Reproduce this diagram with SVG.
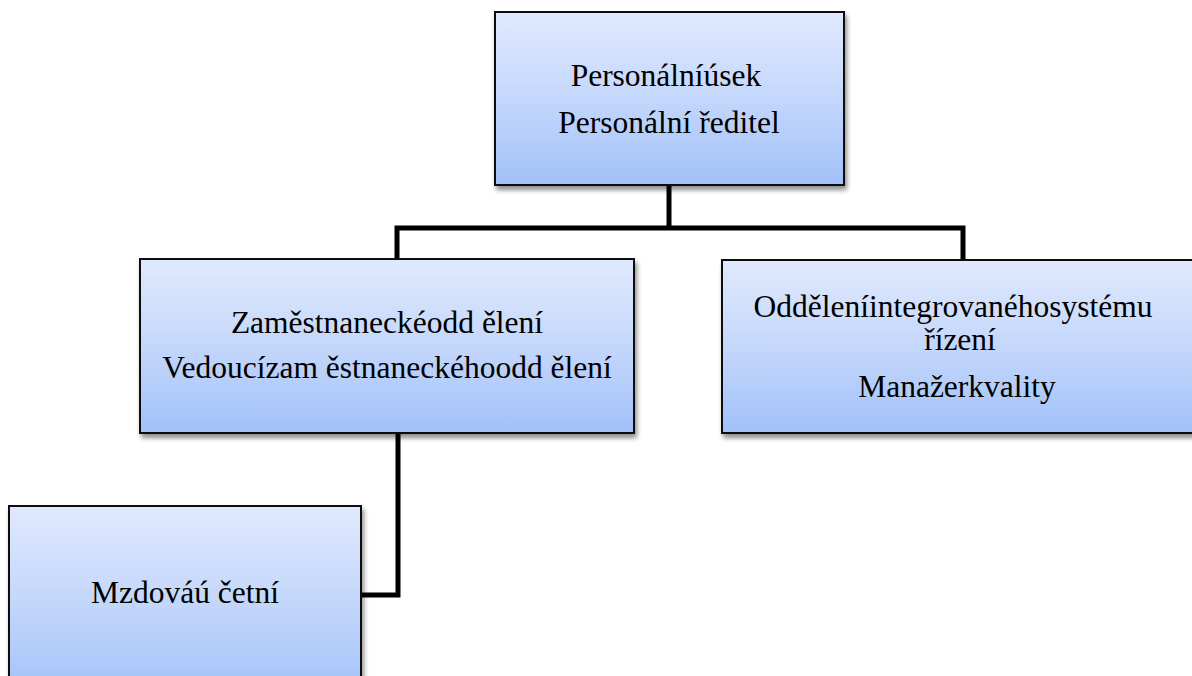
<svg xmlns="http://www.w3.org/2000/svg" width="1192" height="676" viewBox="0 0 1192 676">
  <style>
    .box { fill: url(#boxFill); stroke: #111; stroke-width: 2; filter: url(#shadow); }
    .lbl { font-family: 'Liberation Serif', 'Times New Roman', serif; font-size: 31.5px; fill: #000; text-anchor: middle; }
    .wire { fill: none; stroke: #000; stroke-width: 5; stroke-linejoin: miter; }
  </style>
  <defs>
    <linearGradient id="boxFill" x1="0" y1="0" x2="0" y2="1">
      <stop offset="0" stop-color="#e0e9fc"/>
      <stop offset="0.5" stop-color="#c4d7fb"/>
      <stop offset="1" stop-color="#a2c1f9"/>
    </linearGradient>
    <filter id="shadow" x="-5%" y="-5%" width="115%" height="120%">
      <feGaussianBlur in="SourceAlpha" stdDeviation="2.5"/>
      <feOffset dx="2" dy="4" result="blur"/>
      <feComponentTransfer><feFuncA type="linear" slope="0.45"/></feComponentTransfer>
      <feMerge><feMergeNode/><feMergeNode in="SourceGraphic"/></feMerge>
    </filter>
  </defs>
  <rect width="1192" height="676" fill="#fff"/>

  <g id="connectors">
    <path class="wire" d="M669 185 V228"/>
    <path class="wire" d="M397 259 V228 H963 V260"/>
    <path class="wire" d="M398 433 V595 H361"/>
  </g>

  <g id="node-personalni-usek">
    <rect class="box" x="495" y="12" width="349" height="173"/>
    <text class="lbl" x="666" y="86">Personálníúsek</text>
    <text class="lbl" x="669" y="133">Personální ředitel</text>
  </g>

  <g id="node-zamestnanecke">
    <rect class="box" x="140" y="259" width="494" height="174"/>
    <text class="lbl" x="387" y="333">Zaměstnaneckéodd ělení</text>
    <text class="lbl" x="387" y="378">Vedoucízam ěstnaneckéhoodd ělení</text>
  </g>

  <g id="node-integrovany-system">
    <rect class="box" x="722" y="260" width="490" height="173"/>
    <text class="lbl" x="953" y="317">Odděleníintegrovanéhosystému</text>
    <text class="lbl" x="960" y="350">řízení</text>
    <text class="lbl" x="957" y="397">Manažerkvality</text>
  </g>

  <g id="node-mzdova-uctarna">
    <rect class="box" x="9" y="506" width="352" height="190"/>
    <text class="lbl" x="185" y="603">Mzdováú četní</text>
  </g>
</svg>
